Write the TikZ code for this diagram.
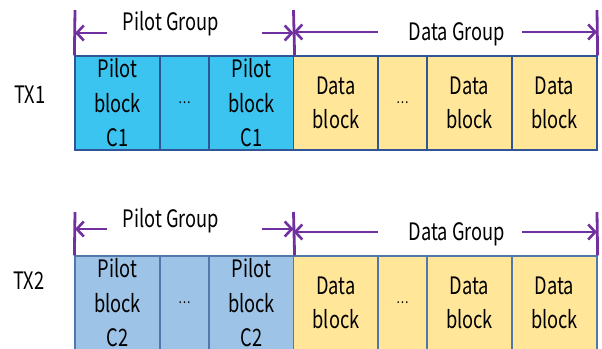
\documentclass[tikz,border=0pt]{standalone}
\usepackage{fontspec}
\setmainfont{Noto Sans CJK SC}[FakeStretch=0.76]
\usetikzlibrary{arrows.meta}
\definecolor{purp}{RGB}{112,48,160}
\definecolor{cyanfill}{RGB}{59,196,240}
\definecolor{lbfill}{RGB}{157,195,230}
\definecolor{datafill}{RGB}{255,230,153}
\definecolor{bordA}{RGB}{47,85,151}
\definecolor{bordB}{RGB}{80,120,170}
\begin{document}
\begin{tikzpicture}[x=1pt,y=-1pt,
  blk/.style={draw, line width=1.2pt, inner sep=0pt, minimum height=94pt, align=center,
     font=\fontsize{24}{34.5}\selectfont},
  wide/.style={minimum width=85pt},
  narrow/.style={minimum width=49pt},
  pA/.style={blk, fill=cyanfill, draw=bordA},
  dA/.style={blk, fill=datafill, draw=bordA},
  pB/.style={blk, fill=lbfill, draw=bordB},
  dB/.style={blk, fill=datafill, draw=bordB},
  dots/.style={font=\fontsize{15}{15}\selectfont},
  purpline/.style={draw=purp, line width=2.8pt},
  arr/.style={purpline, -{Straight Barb[length=7pt,width=15pt,line width=2.6pt]}},
  lbl/.style={font=\fontsize{24}{24}\selectfont, inner sep=0pt},
  txl/.style={font=\fontsize{24}{24}\selectfont, inner sep=0pt}
]
\useasboundingbox (0,0) rectangle (602,348);
\clip (0,0) rectangle (602,348);
\fill[white] (0,0) rectangle (602,348);

% ---------- TX1 ----------
\node[txl] (tx1) at (30,95) {TX1};
\node[pA,wide]   (a1) at (117.5,103) {Pilot\\block\\C1};
\node[pA,narrow] (a2) at (184.5,103) {};
\node[dots] at (a2) {…};
\node[pA,wide]   (a3) at (251.5,103) {Pilot\\block\\C1};
\node[dA,wide]   (a4) at (336,103) {Data\\block};
\node[dA,narrow] (a5) at (402.5,103) {};
\node[dots] at (a5) {…};
\node[dA,wide]   (a6) at (469.5,103) {Data\\block};
\node[dA,wide]   (a7) at (554.5,103) {Data\\block};

\coordinate (t1a) at (75,10);
\coordinate (t1b) at (293.5,10);
\coordinate (t1c) at (597,10);
\path[purpline] (a1.north west) -- (t1a);
\path[purpline] (a3.north east) -- (t1b);
\path[purpline] (a7.north east) -- (t1c);
\node[lbl] (pg1) at (171,24) {Pilot Group};
\node[lbl] (dg1) at (457,34) {Data Group};
\coordinate (pa1l) at (107,33);
\coordinate (pa1r) at (262,33);
\coordinate (da1l) at (378,32);
\coordinate (da1r) at (522,32);
\draw[arr] (pa1l) -- (75,33);
\draw[arr] (pa1r) -- (293.5,33);
\draw[arr] (da1l) -- (293.5,32);
\draw[arr] (da1r) -- (597,32);

% ---------- TX2 ----------
\node[txl] (tx2) at (29,281) {TX2};
\node[pB,wide]   (b1) at (117.5,303) {Pilot\\block\\C2};
\node[pB,narrow] (b2) at (184.5,303) {};
\node[dots] at (b2) {…};
\node[pB,wide]   (b3) at (251.5,303) {Pilot\\block\\C2};
\node[dB,wide]   (b4) at (336,303) {Data\\block};
\node[dB,narrow] (b5) at (402.5,303) {};
\node[dots] at (b5) {…};
\node[dB,wide]   (b6) at (469.5,303) {Data\\block};
\node[dB,wide]   (b7) at (554.5,303) {Data\\block};

\coordinate (t2a) at (75,212);
\coordinate (t2b) at (293.5,212);
\coordinate (t2c) at (597,212);
\path[purpline] (b1.north west) -- (t2a);
\path[purpline] (b3.north east) -- (t2b);
\path[purpline] (b7.north east) -- (t2c);
\node[lbl] (pg2) at (171,221) {Pilot Group};
\node[lbl] (dg2) at (457,234) {Data Group};
\draw[arr] (107,229) -- (75,229);
\draw[arr] (262,229) -- (293.5,229);
\draw[arr] (378,232) -- (293.5,232);
\draw[arr] (522,232) -- (597,232);
\end{tikzpicture}
\end{document}
